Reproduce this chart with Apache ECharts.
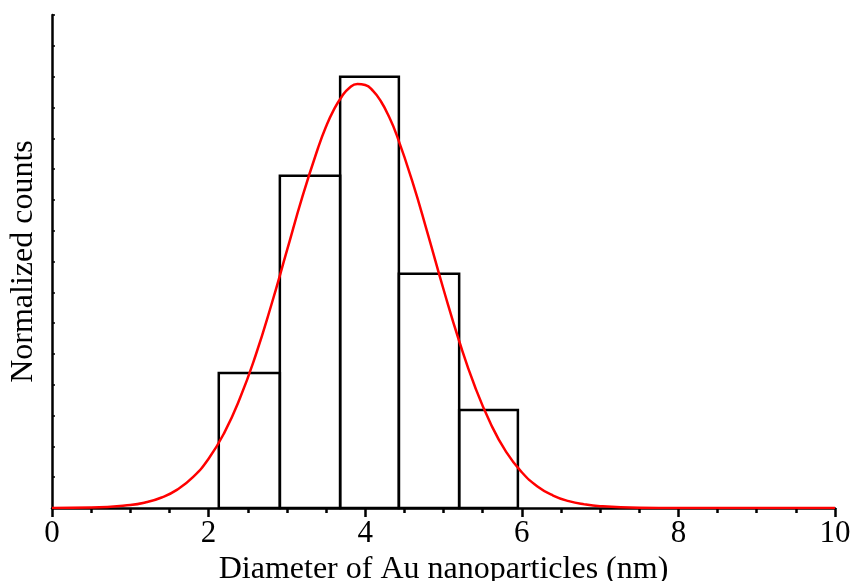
<!DOCTYPE html>
<html>
<head>
<meta charset="utf-8">
<script src="https://cdn.jsdelivr.net/npm/echarts@6/dist/echarts.min.js"></script>
<style>html,body{margin:0;padding:0;background:#fff}#c{width:855px;height:581px}</style>
</head>
<body>
<div id="c"></div>
<script>
// Histogram bins: [left edge, right edge, count]
var binLeft = [2.13, 2.91, 3.68, 4.43, 5.20];
var binRight = [2.91, 3.68, 4.43, 5.20, 5.95];
var binCounts = [4.38, 10.78, 14.0, 7.6, 3.18];
// Fitted curve points
var fitX = [0, 0.5, 1.0, 1.2, 1.4, 1.6, 1.8, 2.0, 2.2, 2.4, 2.6, 2.8, 3.0, 3.2, 3.4, 3.5, 3.6, 3.7, 3.8, 3.9, 4.0, 4.1, 4.2, 4.3, 4.4, 4.6, 4.8, 5.0, 5.2, 5.4, 5.6, 5.8, 6.0, 6.2, 6.4, 6.6, 6.8, 7.0, 7.5, 8.0, 9.0, 10.0];
var fitY = [0.002, 0.015, 0.097, 0.185, 0.34, 0.597, 1.00, 1.60, 2.44, 3.56, 4.95, 6.58, 8.35, 10.12, 11.70, 12.38, 12.93, 13.35, 13.64, 13.76, 13.73, 13.54, 13.20, 12.72, 12.12, 10.62, 8.89, 7.10, 5.42, 3.95, 2.75, 1.82, 1.16, 0.70, 0.405, 0.223, 0.118, 0.06, 0.01, 0.0, 0.0, 0.0];
var xTicks = [0, 2, 4, 6, 8, 10];

var chart = echarts.init(document.getElementById('c'));
var font = '"Liberation Serif", "Times New Roman", serif';
var bins = binLeft.map(function (l, i) { return [l, binRight[i], binCounts[i]]; });
var fit = fitX.map(function (x, i) { return [x, fitY[i]]; });

chart.setOption({
  animation: false,
  backgroundColor: '#fff',
  grid: { left: 52, right: 20, top: 15, bottom: 73, outerBoundsMode: 'none', containLabel: false },
  xAxis: {
    type: 'value', min: 0, max: 10, interval: 2,
    name: 'Diameter of Au nanoparticles (nm)',
    nameLocation: 'middle', nameGap: 41,
    nameTextStyle: { fontFamily: font, fontSize: 32, color: '#000' },
    axisLine: { onZero: false, lineStyle: { color: '#000', width: 2.5 } },
    axisTick: { show: true, inside: false, length: 9, lineStyle: { color: '#000', width: 2.5 } },
    minorTick: { show: true, splitNumber: 4, length: 5, lineStyle: { color: '#000', width: 2.5 } },
    axisLabel: { fontFamily: font, fontSize: 31, color: '#000', margin: 10,
      formatter: function (v) { return xTicks.indexOf(v) >= 0 ? String(v) : ''; } },
    splitLine: { show: false }
  },
  yAxis: {
    type: 'value', min: 0, max: 16, interval: 1,
    name: 'Normalized counts',
    nameLocation: 'middle', nameGap: 12, nameRotate: 90,
    nameTextStyle: { fontFamily: font, fontSize: 32, color: '#000' },
    axisLine: { show: true, lineStyle: { color: '#000', width: 2.5 } },
    axisTick: { show: true, inside: true, length: 3, lineStyle: { color: '#000', width: 1.5 } },
    axisLabel: { show: false },
    splitLine: { show: false }
  },
  series: [
    {
      type: 'custom',
      z: 2,
      data: bins,
      renderItem: function (params, api) {
        var p0 = api.coord([api.value(0), api.value(2)]);
        var p1 = api.coord([api.value(1), 0]);
        return {
          type: 'rect',
          shape: { x: p0[0], y: p0[1], width: p1[0] - p0[0], height: p1[1] - p0[1] },
          style: { fill: 'none', stroke: '#000', lineWidth: 2.5 }
        };
      },
      encode: { x: [0, 1], y: 2 }
    },
    {
      type: 'line',
      z: 3,
      data: fit,
      smooth: 0.5,
      showSymbol: false,
      lineStyle: { color: '#ff0000', width: 2.5 }
    }
  ]
});
</script>
</body>
</html>
